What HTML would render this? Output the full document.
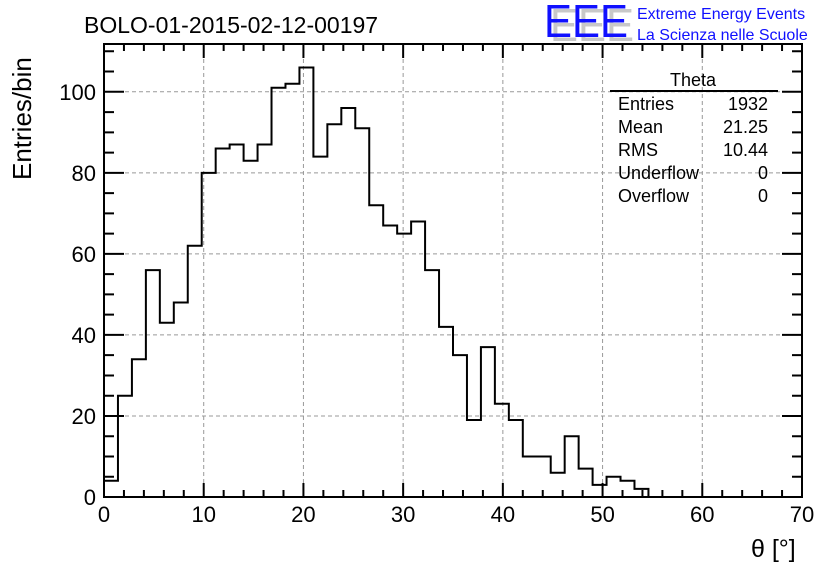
<!DOCTYPE html>
<html><head><meta charset="utf-8"><style>
body{margin:0;background:#fff;}
svg{display:block;font-family:"Liberation Sans",sans-serif;}
</style></head><body>
<svg id="chart" width="836" height="572" viewBox="0 0 836 572" xmlns="http://www.w3.org/2000/svg">
<rect width="836" height="572" fill="#fff"/>
<text x="84" y="33" font-size="23">BOLO-01-2015-02-12-00197</text>
<g>
<text x="550" y="41" font-size="46" fill="#c8c8c8" textLength="84" lengthAdjust="spacingAndGlyphs">EEE</text>
<text x="544" y="37" font-size="46" fill="#1010ff" textLength="84" lengthAdjust="spacingAndGlyphs">EEE</text>
<text x="637" y="19" font-size="16" fill="#1010ff">Extreme Energy Events</text>
<text x="637" y="40" font-size="16" fill="#1010ff">La Scienza nelle Scuole</text>
</g>
<g id="grid"></g>
<g id="ticks"></g>
<path id="hist" fill="none" stroke="#000" stroke-width="2"/>
<rect x="104" y="44" width="698" height="453" fill="none" stroke="#000" stroke-width="2"/>
<g id="labels" font-size="22"></g>
<text transform="translate(31,180) rotate(-90)" font-size="26">Entries/bin</text>
<text x="751" y="557" font-size="25">θ [°]</text>
<g font-size="18">
<text x="693" y="86" text-anchor="middle">Theta</text>
<line x1="610" y1="91" x2="778" y2="91" stroke="#000" stroke-width="2"/>
<text x="618" y="110">Entries</text><text x="768" y="110" text-anchor="end">1932</text>
<text x="618" y="133">Mean</text><text x="768" y="133" text-anchor="end">21.25</text>
<text x="618" y="156">RMS</text><text x="768" y="156" text-anchor="end">10.44</text>
<text x="618" y="179">Underflow</text><text x="768" y="179" text-anchor="end">0</text>
<text x="618" y="202">Overflow</text><text x="768" y="202" text-anchor="end">0</text>
</g>
</svg>
<script>
const binWidth = 1.4;
const counts = [4,25,34,56,43,48,62,80,86,87,83,87,101,102,106,84,92,96,91,72,67,65,68,56,42,35,19,37,23,19,10,10,6,15,7,3,5,4,2,0,0,0,0,0,0,0,0,0,0,0];
const xTicks = [0,10,20,30,40,50,60,70];
const yTicks = [0,20,40,60,80,100];
const X0=104,X1=802,Y0=497,Y1=44,xMax=70,yMax=111.8;
const sx=v=>X0+v/xMax*(X1-X0);
const sy=v=>Y0-v/yMax*(Y0-Y1);
const NS="http://www.w3.org/2000/svg";
function mk(tag,attrs,parent){const e=document.createElementNS(NS,tag);for(const k in attrs)e.setAttribute(k,attrs[k]);parent.appendChild(e);return e;}
const grid=document.getElementById('grid'),ticks=document.getElementById('ticks'),labels=document.getElementById('labels');
xTicks.forEach(v=>{
 const g=mk('line',{x1:sx(v),x2:sx(v),y1:Y0,y2:Y1,stroke:'#999','stroke-dasharray':'4,3','stroke-width':1},grid);
 
 
 const t=mk('text',{x:sx(v),y:Y0+25,'text-anchor':'middle'},labels);
 t.textContent=v;
 
 
});
yTicks.forEach(v=>{
 const g=mk('line',{x1:X0,x2:X1,y1:sy(v),y2:sy(v),stroke:'#999','stroke-dasharray':'4,3','stroke-width':1},grid);
 
 
 const t=mk('text',{x:X0-8,y:sy(v)+8,'text-anchor':'end'},labels);
 t.textContent=v;
 
 
});
let d='';
for(let v=0;v<=xMax;v+=2){const L=(v%10===0)?14:7;d+=`M${sx(v)},${Y0}v${-L}M${sx(v)},${Y1}v${L}`;}
for(let v=0;v<=110;v+=5){const L=(v%20===0)?20:10;d+=`M${X0},${sy(v)}h${L}M${X1},${sy(v)}h${-L}`;}
mk('path',{d:d,stroke:'#000','stroke-width':2,fill:'none'},ticks);
let last=0;
for(let i=counts.length-1;i>=0;i--){if(counts[i]>0){last=i;break;}}
let p=`M${sx(0)},${sy(0)}`;
for(let i=0;i<=last;i++){p+=`L${sx(i*binWidth)},${sy(counts[i])}L${sx((i+1)*binWidth)},${sy(counts[i])}`;}
p+=`L${sx((last+1)*binWidth)},${sy(0)}`;
document.getElementById('hist').setAttribute('d',p);
</script>
</body></html>
